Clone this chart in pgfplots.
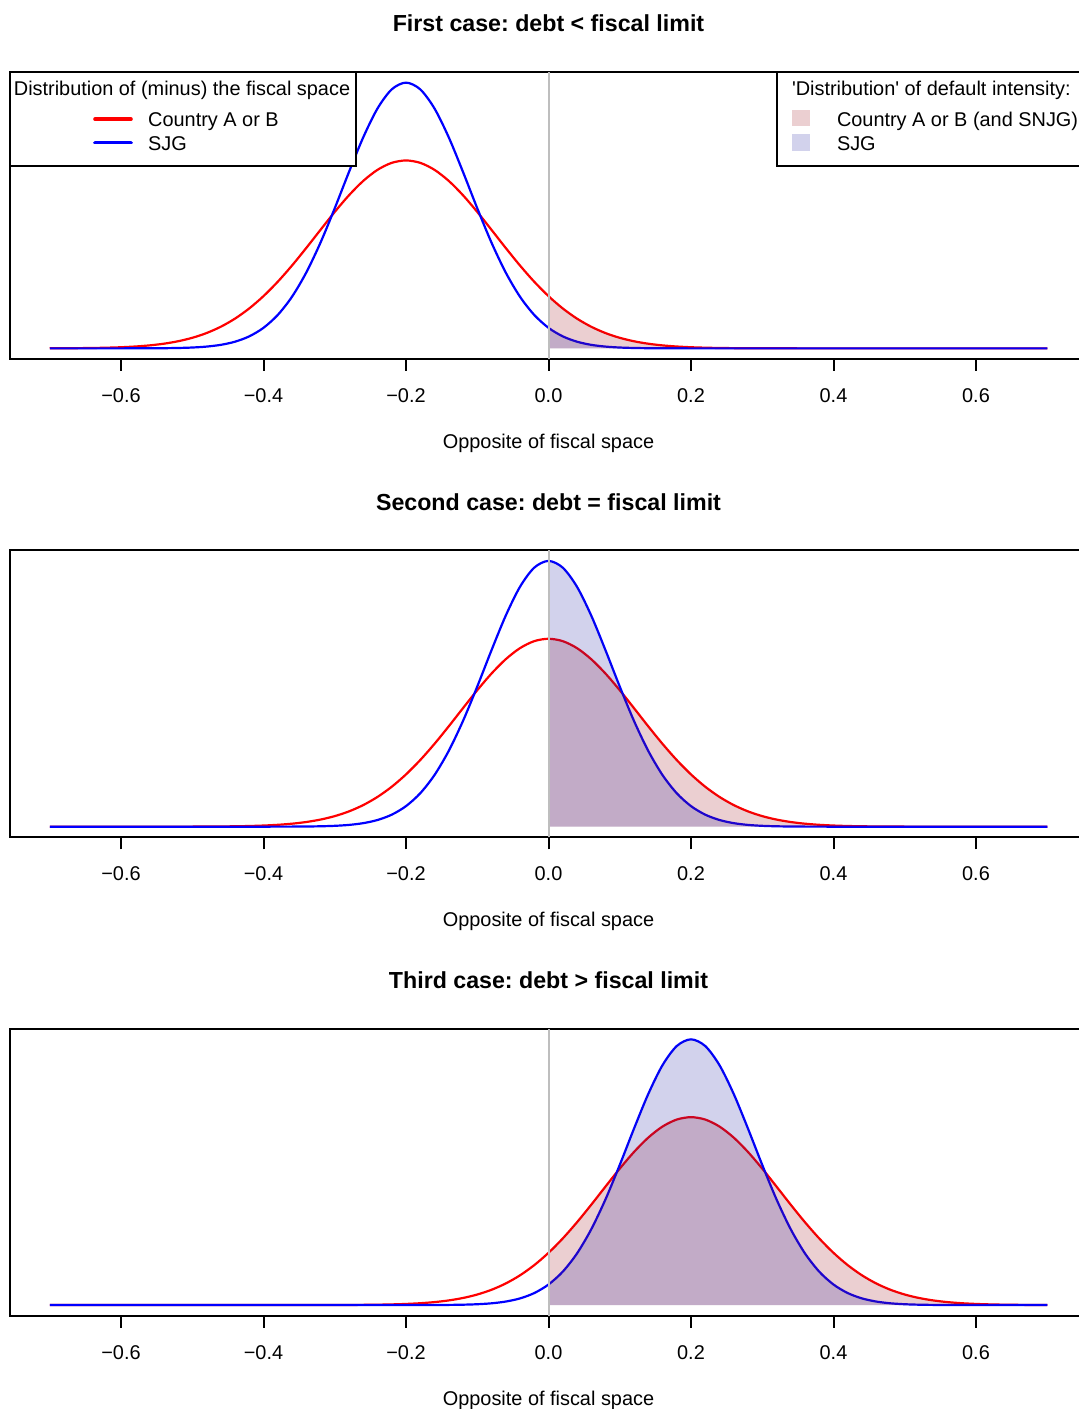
\documentclass[border=0pt]{standalone}
\usepackage{pgfplots}
\usepackage{pgfplotstable}
\pgfplotsset{compat=1.18}
\usepackage{fontspec}
\setmainfont{Liberation Sans}[Ligatures=TeXOff]
\frenchspacing

\definecolor{rline}{RGB}{255,0,0}
\definecolor{bline}{RGB}{0,0,255}
\definecolor{rfill}{RGB}{155,15,25}
\definecolor{bfill}{RGB}{30,30,160}
\definecolor{rkey}{RGB}{235,207,209}
\definecolor{bkey}{RGB}{210,210,236}
\definecolor{zeroline}{RGB}{190,190,190}

% Densities (scaled so that the wide curve peaks at 1):
% r = country A or B, b = SJG; columns 1,2,3 = centred at -0.2, 0, 0.2
\pgfplotstableread{
x      r1      b1      r2      b2      r3      b3
-0.70  0.00034 0       0       0       0       0
-0.68  0.00063 0       0       0       0       0
-0.66  0.00115 0       0       0       0       0
-0.64  0.00204 0.00001 0       0       0       0
-0.62  0.00354 0.00002 0       0       0       0
-0.60  0.00598 0.00005 0.00001 0       0       0
-0.58  0.00985 0.00014 0.00002 0       0       0
-0.56  0.01581 0.00035 0.00004 0       0       0
-0.54  0.02474 0.00087 0.00009 0       0       0
-0.52  0.03775 0.00202 0.00018 0       0       0
-0.50  0.05613 0.00446 0.00034 0       0       0
-0.48  0.08137 0.00936 0.00063 0       0       0
-0.46  0.11496 0.01869 0.00115 0       0       0
-0.44  0.15831 0.03544 0.00204 0.00001 0       0
-0.42  0.21250 0.06386 0.00354 0.00002 0       0
-0.40  0.27804 0.10933 0.00598 0.00005 0.00001 0
-0.38  0.35459 0.17781 0.00985 0.00014 0.00002 0
-0.36  0.44078 0.27476 0.01581 0.00035 0.00004 0
-0.34  0.53409 0.40341 0.02474 0.00087 0.00009 0
-0.32  0.63078 0.56270 0.03775 0.00202 0.00018 0
-0.30  0.72615 0.74571 0.05613 0.00446 0.00034 0
-0.28  0.81481 0.93892 0.08137 0.00936 0.00063 0
-0.26  0.89118 1.12318 0.11496 0.01869 0.00115 0
-0.24  0.95009 1.27657 0.15831 0.03544 0.00204 0.00001
-0.22  0.98728 1.37846 0.21250 0.06386 0.00354 0.00002
-0.20  1.00000 1.41421 0.27804 0.10933 0.00598 0.00005
-0.18  0.98728 1.37846 0.35459 0.17781 0.00985 0.00014
-0.16  0.95009 1.27657 0.44078 0.27476 0.01581 0.00035
-0.14  0.89118 1.12318 0.53409 0.40341 0.02474 0.00087
-0.12  0.81481 0.93892 0.63078 0.56270 0.03775 0.00202
-0.10  0.72615 0.74571 0.72615 0.74571 0.05613 0.00446
-0.08  0.63078 0.56270 0.81481 0.93892 0.08137 0.00936
-0.06  0.53409 0.40341 0.89118 1.12318 0.11496 0.01869
-0.04  0.44078 0.27476 0.95009 1.27657 0.15831 0.03544
-0.02  0.35459 0.17781 0.98728 1.37846 0.21250 0.06386
 0.00  0.27804 0.10933 1.00000 1.41421 0.27804 0.10933
 0.02  0.21250 0.06386 0.98728 1.37846 0.35459 0.17781
 0.04  0.15831 0.03544 0.95009 1.27657 0.44078 0.27476
 0.06  0.11496 0.01869 0.89118 1.12318 0.53409 0.40341
 0.08  0.08137 0.00936 0.81481 0.93892 0.63078 0.56270
 0.10  0.05613 0.00446 0.72615 0.74571 0.72615 0.74571
 0.12  0.03775 0.00202 0.63078 0.56270 0.81481 0.93892
 0.14  0.02474 0.00087 0.53409 0.40341 0.89118 1.12318
 0.16  0.01581 0.00035 0.44078 0.27476 0.95009 1.27657
 0.18  0.00985 0.00014 0.35459 0.17781 0.98728 1.37846
 0.20  0.00598 0.00005 0.27804 0.10933 1.00000 1.41421
 0.22  0.00354 0.00002 0.21250 0.06386 0.98728 1.37846
 0.24  0.00204 0.00001 0.15831 0.03544 0.95009 1.27657
 0.26  0.00115 0       0.11496 0.01869 0.89118 1.12318
 0.28  0.00063 0       0.08137 0.00936 0.81481 0.93892
 0.30  0.00034 0       0.05613 0.00446 0.72615 0.74571
 0.32  0.00018 0       0.03775 0.00202 0.63078 0.56270
 0.34  0.00009 0       0.02474 0.00087 0.53409 0.40341
 0.36  0.00004 0       0.01581 0.00035 0.44078 0.27476
 0.38  0.00002 0       0.00985 0.00014 0.35459 0.17781
 0.40  0.00001 0       0.00598 0.00005 0.27804 0.10933
 0.42  0       0       0.00354 0.00002 0.21250 0.06386
 0.44  0       0       0.00204 0.00001 0.15831 0.03544
 0.46  0       0       0.00115 0       0.11496 0.01869
 0.48  0       0       0.00063 0       0.08137 0.00936
 0.50  0       0       0.00034 0       0.05613 0.00446
 0.52  0       0       0.00018 0       0.03775 0.00202
 0.54  0       0       0.00009 0       0.02474 0.00087
 0.56  0       0       0.00004 0       0.01581 0.00035
 0.58  0       0       0.00002 0       0.00985 0.00014
 0.60  0       0       0.00001 0       0.00598 0.00005
 0.62  0       0       0       0       0.00354 0.00002
 0.64  0       0       0       0       0.00204 0.00001
 0.66  0       0       0       0       0.00115 0
 0.68  0       0       0       0       0.00063 0
 0.70  0       0       0       0       0.00034 0
}\dens

\newcommand{\txt}{\fontsize{9.95}{12}\selectfont}

\pgfplotsset{
  panel/.style={
    scale only axis, width=538.65pt, height=143.5pt,
    anchor=south west,
    xmin=-0.756, xmax=0.756, ymin=-0.05657, ymax=1.47078,
    axis line style={line width=1pt},
    xtick={-0.6,-0.4,-0.2,0,0.2,0.4,0.6},
    xticklabels={−0.6,−0.4,−0.2,0.0,0.2,0.4,0.6},
    ytick=\empty,
    xtick pos=left,
    tick align=outside,
    major tick length=6pt,
    tick style={line width=1pt, black},
    xticklabel style={anchor=base, yshift=-15.65pt, font=\txt, inner sep=0pt},
    xlabel={Opposite of fiscal space},
    xlabel style={at={(axis description cs:0.5,0)}, anchor=base, yshift=-44.65pt, font=\txt, inner sep=0pt},
    title style={at={(axis description cs:0.5,1)}, anchor=base, yshift=14.1pt,
      font=\fontsize{11.6}{14}\selectfont\bfseries, inner sep=0pt},
  },
  curve/.style={line width=1.1pt, smooth},
  area/.style={draw=none, fill opacity=0.2, smooth, restrict x to domain=0:0.7},
}

\newcommand{\panel}[2]{%
  \addplot[curve, rline] table[x=x, y=#1] {\dens};
  \addplot[curve, bline] table[x=x, y=#2] {\dens};
  \addplot[area, fill=rfill] table[x=x, y=#1] {\dens} \closedcycle;
  \addplot[area, fill=bfill] table[x=x, y=#2] {\dens} \closedcycle;
  \addplot[zeroline, line width=1pt] coordinates {(0,-0.05657) (0,1.47078)};
}

\begin{document}
\begin{tikzpicture}
\path[use as bounding box] (0,0) rectangle (539.5pt,704.5pt);

\begin{axis}[panel, at={(4.925pt,525pt)}, title={First case: debt < fiscal limit}]
  \panel{r1}{b1}
\end{axis}

\begin{axis}[panel, at={(4.925pt,285.85pt)}, title={Second case: debt = fiscal limit}]
  \panel{r2}{b2}
\end{axis}

\begin{axis}[panel, at={(4.925pt,46.65pt)}, title={Third case: debt > fiscal limit}]
  \panel{r3}{b3}
\end{axis}

% legend: distribution of (minus) the fiscal space
\draw[line width=1pt, fill=white] (5pt,621.5pt) rectangle (177.85pt,668.65pt);
\node[anchor=base west, inner sep=0pt, font=\txt] at (6.75pt,656.5pt) {Distribution of (minus) the fiscal space};
\draw[rline, line width=1.8pt, line cap=round] (47.5pt,644.85pt) -- (65.5pt,644.85pt);
\draw[bline, line width=1.8pt, line cap=round] (47.5pt,633.15pt) -- (65.5pt,633.15pt);
\node[anchor=base west, inner sep=0pt, font=\txt] at (73.9pt,641.2pt) {Country A or B};
\node[anchor=base west, inner sep=0pt, font=\txt] at (73.9pt,629.3pt) {SJG};

% legend: default intensity
\draw[line width=1pt, fill=white] (388.35pt,621.5pt) rectangle (546pt,668.65pt);
\node[anchor=base west, inner sep=0pt, font=\txt] at (395.8pt,656.5pt) {'Distribution' of default intensity:};
\fill[rkey] (396pt,641.5pt) rectangle (405pt,649.5pt);
\fill[bkey] (396pt,629.15pt) rectangle (405pt,637.5pt);
\node[anchor=base west, inner sep=0pt, font=\txt] at (418.3pt,641.2pt) {Country A or B (and SNJG)};
\node[anchor=base west, inner sep=0pt, font=\txt] at (418.3pt,629.3pt) {SJG};
\end{tikzpicture}
\end{document}
